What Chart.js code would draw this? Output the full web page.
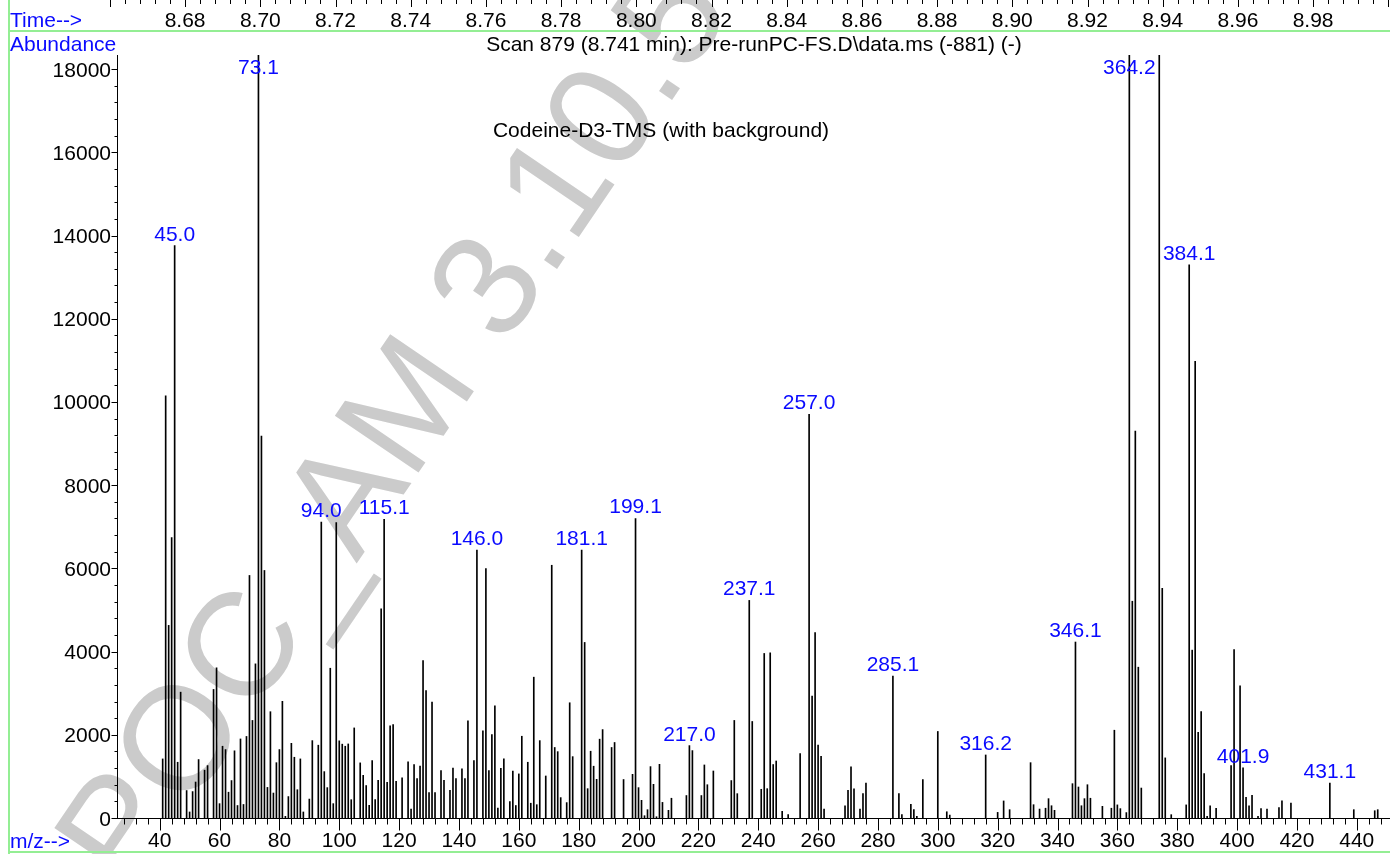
<!DOCTYPE html>
<html>
<head>
<meta charset="utf-8">
<title>Codeine-D3-TMS</title>
<script src="https://cdn.jsdelivr.net/npm/chart.js@4.4.1/dist/chart.umd.min.js"></script>
<style>
  html, body { margin: 0; padding: 0; background: #fff; }
  #wrap { width: 1390px; height: 854px; }
</style>
</head>
<body>
<div id="wrap"><canvas id="spectrum" width="1390" height="854"></canvas></div>
<script>
const mzValues = [
  41, 42, 43, 44, 45, 46, 47, 49, 50, 51, 52, 53, 55, 56, 58, 59, 60, 61, 62, 63,
  64, 65, 66, 67, 68, 69, 70, 71, 72, 73, 74, 75, 76, 77, 78, 79, 80, 81, 82, 83,
  84, 85, 86, 87, 88, 90, 91, 93, 94, 95, 96, 97, 98, 99, 100, 101, 102, 103, 104, 105,
  107, 108, 109, 110, 111, 112, 113, 114, 115, 116, 117, 118, 119, 121, 123, 124, 125, 126, 127, 128,
  129, 130, 131, 132, 134, 135, 137, 138, 139, 141, 142, 143, 145, 146, 148, 149, 150, 151, 152, 153,
  154, 155, 157, 158, 159, 160, 161, 163, 164, 165, 166, 167, 169, 171, 172, 173, 174, 176, 177, 178,
  181, 182, 183, 184, 185, 186, 187, 188, 191, 192, 195, 198, 199, 200, 201, 202, 203, 204, 205, 206,
  207, 208, 210, 211, 216, 217, 218, 221, 222, 223, 225, 231, 232, 233, 237, 238, 241, 242, 243, 244,
  245, 246, 248, 250, 254, 257, 258, 259, 260, 261, 262, 269, 270, 271, 272, 274, 275, 276, 285, 287,
  288, 291, 292, 293, 295, 300, 303, 304, 316, 320, 322, 324, 331, 332, 334, 336, 337, 338, 339, 345,
  346, 347, 348, 349, 350, 351, 355, 358, 359, 360, 361, 363, 364, 365, 366, 367, 368, 374, 375, 376,
  378, 383, 384, 385, 386, 387, 388, 389, 390, 391, 393, 398, 399, 401, 402, 403, 404, 405, 407, 408,
  410, 414, 415, 418, 431, 439, 446, 447
];
const abundances = [
  1420, 10150, 4630, 6740, 13760, 1340, 3025, 660, 145, 635, 865, 1405, 1150, 1260, 3090, 3610, 345, 1725, 1645, 620,
  900, 1615, 300, 1900, 325, 1960, 5830, 2345, 3705, 20500, 9180, 5950, 735, 2555, 600, 1330, 1645, 2805, 40, 515,
  1795, 1460, 680, 1420, 145, 455, 1860, 1750, 7115, 1115, 730, 3600, 345, 7100, 1855, 1775, 1725, 1780, 440, 2165,
  1325, 1025, 780, 305, 1380, 445, 905, 5030, 7180, 860, 2215, 2245, 880, 965, 1350, 215, 1285, 950, 1245, 3785,
  3065, 610, 2785, 610, 1140, 905, 665, 1200, 945, 1180, 945, 2335, 1380, 6440, 2095, 5995, 1140, 2005, 2695, 240,
  1195, 1420, 395, 1130, 300, 1060, 1965, 1340, 355, 3385, 320, 1860, 1010, 6075, 1695, 1595, 490, 370, 2770, 1475,
  6440, 4220, 705, 1605, 1245, 930, 1895, 2125, 1695, 1815, 925, 1050, 7200, 730, 425, 55, 200, 1235, 810, 30,
  1290, 375, 185, 475, 540, 1740, 1620, 540, 1275, 800, 1130, 900, 2345, 585, 5230, 2320, 690, 3955, 705, 3970,
  1285, 1370, 160, 80, 1550, 9700, 2930, 4455, 1755, 1485, 215, 295, 665, 1230, 700, 215, 585, 840, 3410, 585,
  80, 330, 200, 40, 925, 2080, 150, 70, 1515, 135, 410, 200, 1330, 320, 215, 235, 465, 295, 185, 825,
  4230, 745, 295, 465, 800, 475, 280, 235, 2110, 315, 225, 130, 20500, 5210, 9300, 3625, 720, 20500, 5520, 1445,
  80, 315, 13295, 4035, 10975, 2060, 2560, 1065, 40, 290, 235, 1260, 4050, 3175, 1205, 495, 295, 545, 40, 225,
  215, 250, 410, 360, 840, 200, 175, 200
];

const peakLabelMz = [45, 73, 94, 115, 146, 181, 199, 217, 237, 257, 285, 316, 346, 364, 384, 402, 431];
const peakLabelText = ['45.0', '73.1', '94.0', '115.1', '146.0', '181.1', '199.1', '217.0', '237.1',
  '257.0', '285.1', '316.2', '346.1', '364.2', '384.1', '401.9', '431.1'];

const xTickValues = [40, 60, 80, 100, 120, 140, 160, 180, 200, 220, 240, 260, 280, 300, 320, 340, 360, 380, 400, 420, 440];
const yTickValues = [0, 2000, 4000, 6000, 8000, 10000, 12000, 14000, 16000, 18000];
const timeTickLabels = ['8.68', '8.70', '8.72', '8.74', '8.76', '8.78', '8.80', '8.82',
  '8.84', '8.86', '8.88', '8.90', '8.92', '8.94', '8.96', '8.98'];
// retention time range that lines up with the m/z range of the plot
const timeRange = [8.66215, 9.00045];

const scanTitle = 'Scan 879 (8.741 min): Pre-runPC-FS.D\\data.ms (-881) (-)';
const compoundTitle = 'Codeine-D3-TMS (with background)';
const watermarkText = 'POC_AM 3.10.5';

const FONT = '21px "Liberation Sans", Arial, Helvetica, sans-serif';
const BLUE = '#0a0aff';
const GREEN = '#94ee94';

const spectrumDecor = {
  id: 'spectrumDecor',
  beforeDraw(chart) {
    const ctx = chart.ctx;
    ctx.save();
    ctx.fillStyle = '#fff';
    ctx.fillRect(0, 0, chart.width, chart.height);

    // diagonal watermark, placed so the dot after "3" sits where it is in the scan
    const size = 147;
    const theta = Math.atan2(-169, 115);
    ctx.font = size + 'px "Liberation Sans", Arial, sans-serif';
    const along = ctx.measureText('POC_AM 3').width + 0.139 * size;
    const up = 0.05 * size;
    const dir = [Math.cos(theta), Math.sin(theta)];
    const upv = [Math.sin(theta), -Math.cos(theta)];
    const ax = 555 - along * dir[0] - up * upv[0];
    const ay = 259 - along * dir[1] - up * upv[1];
    ctx.translate(ax, ay);
    ctx.rotate(theta);
    ctx.fillStyle = '#cbcbcb';
    ctx.textBaseline = 'alphabetic';
    ctx.textAlign = 'left';
    ctx.fillText(watermarkText, 0, 0);
    ctx.restore();
  },
  afterDraw(chart) {
    const ctx = chart.ctx;
    const xs = chart.scales.x;
    const ys = chart.scales.y;
    const area = chart.chartArea;
    const timePixel = (t) => xs.left + (t - timeRange[0]) / (timeRange[1] - timeRange[0]) * (xs.right - xs.left);
    ctx.save();

    // frame
    ctx.fillStyle = GREEN;
    ctx.fillRect(8, 30, chart.width - 8, 2);
    ctx.fillRect(8, 0, 2, chart.height);
    ctx.fillRect(8, 851, chart.width - 8, 2);

    ctx.strokeStyle = '#000';
    ctx.lineWidth = 1;

    // time axis on top
    ctx.beginPath();
    for (let k = 2165; k <= 2252; k++) {
      const px = Math.round(timePixel(k * 0.004)) + 0.5;
      if (px < 0 || px > chart.width) continue;
      ctx.moveTo(px, 0);
      ctx.lineTo(px, k % 5 === 0 ? 7 : 4);
    }
    ctx.stroke();

    ctx.font = FONT;
    ctx.textBaseline = 'alphabetic';
    ctx.fillStyle = '#000';
    ctx.textAlign = 'center';
    timeTickLabels.forEach((lbl) => {
      ctx.fillText(lbl, timePixel(parseFloat(lbl)), 27);
    });

    // y axis
    const axX = area.left - 0.5;
    ctx.beginPath();
    ctx.moveTo(axX, area.top);
    ctx.lineTo(axX, area.bottom);
    for (let v = 0; v <= ys.max; v += 400) {
      const py = Math.round(ys.getPixelForValue(v)) + 0.5;
      ctx.moveTo(axX, py);
      ctx.lineTo(axX - (v % 2000 === 0 ? 6 : 3), py);
    }
    ctx.stroke();
    ctx.textAlign = 'right';
    yTickValues.forEach((v) => {
      ctx.fillText(String(v), 111, ys.getPixelForValue(v) + 7.5);
    });

    // x axis
    const axY = Math.round(ys.getPixelForValue(0)) + 0.5;
    ctx.beginPath();
    ctx.moveTo(area.left - 1, axY);
    ctx.lineTo(chart.width, axY);
    for (let m = 28; m <= xs.max; m += 4) {
      const px = Math.round(xs.getPixelForValue(m)) + 0.5;
      ctx.moveTo(px, axY);
      ctx.lineTo(px, axY + (m % 20 === 0 ? 12 : 6));
    }
    ctx.stroke();
    ctx.textAlign = 'center';
    xTickValues.forEach((m) => {
      ctx.fillText(String(m), xs.getPixelForValue(m), 847);
    });

    // titles
    ctx.fillText(scanTitle, 754, 51);
    ctx.fillText(compoundTitle, 661, 137);

    // blue captions
    ctx.fillStyle = BLUE;
    ctx.textAlign = 'left';
    ctx.fillText('Time-->', 10, 27);
    ctx.fillText('Abundance', 10, 51);
    ctx.fillText('m/z-->', 10, 848);

    // peak labels
    ctx.textAlign = 'center';
    peakLabelMz.forEach((mz, i) => {
      const v = abundances[mzValues.indexOf(mz)];
      const top = Math.max(ys.getPixelForValue(v), area.top);
      ctx.fillText(peakLabelText[i], xs.getPixelForValue(mz), Math.max(top - 5, 74));
    });
    ctx.restore();
  }
};

const spectrumChart = new Chart(document.getElementById('spectrum'), {
  type: 'bar',
  data: {
    datasets: [{
      data: mzValues.map((mz, i) => ({ x: mz, y: abundances[i] })),
      backgroundColor: '#000',
      borderWidth: 0,
      barThickness: 1,
      grouped: false
    }]
  },
  options: {
    responsive: false,
    animation: false,
    devicePixelRatio: 1,
    events: [],
    layout: { padding: { left: 118, right: 0, top: 55, bottom: 36 } },
    plugins: { legend: { display: false }, tooltip: { enabled: false } },
    scales: {
      x: { type: 'linear', min: 26.07, max: 451.1, offset: false, display: false },
      y: { type: 'linear', min: 0, max: 18340, display: false }
    }
  },
  plugins: [spectrumDecor]
});
</script>
</body>
</html>
